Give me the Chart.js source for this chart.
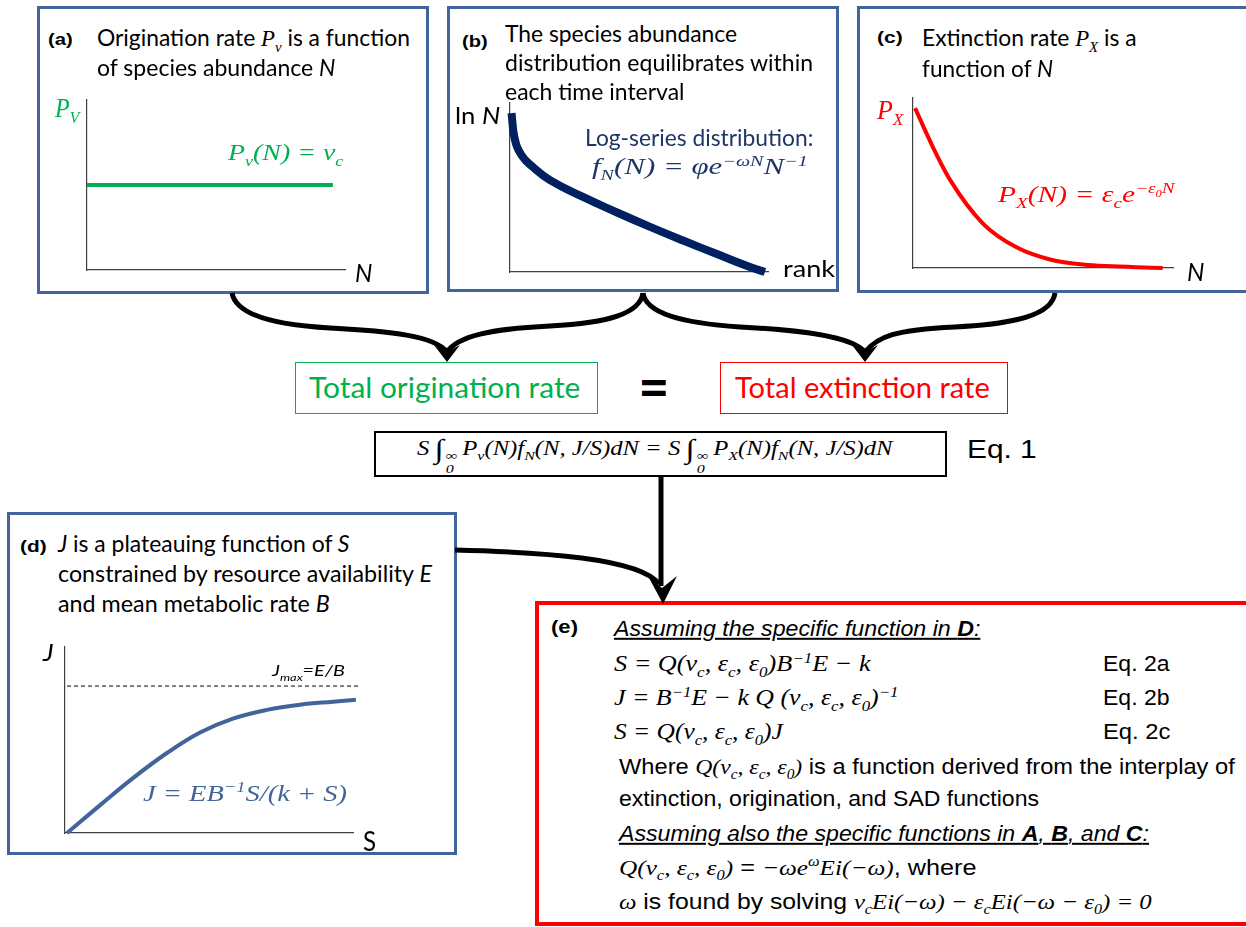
<!DOCTYPE html>
<html lang="en">
<head>
<meta charset="UTF-8">
<title>Species richness model</title>
<style>
    body { margin: 0; background: #fff; width: 1246px; height: 927px; overflow: hidden; position: relative; }
    .box { position: absolute; box-sizing: border-box; }
    .panel { border: 3px solid #41649a; }
    .t { position: absolute; white-space: nowrap; line-height: 1.2; transform-origin: 0 50%; transform: translateY(-50%);
         font-family: Lato, "Open Sans", sans-serif; font-size: 24px; color: #000; }
    .lab { font-family: "Liberation Sans", Arial, sans-serif; font-weight: bold; font-size: 17px; }
    .ar { font-family: "Liberation Sans", Arial, sans-serif; font-size: 22px; }
    .m { font-family: "Liberation Serif", "DejaVu Serif", serif; font-style: italic; }
    sub, sup { font-size: 0.65em; line-height: 0; }
    .int { font-size: 1.35em; line-height: 0; vertical-align: -0.1em; margin: 0 2px 0 4px; }
    .lim { display: inline-flex; flex-direction: column; font-size: 0.65em; line-height: 1; vertical-align: -0.35em; margin-right: 4px; }
    canvas { position: absolute; }
    svg { position: absolute; left: 0; top: 0; }
</style>
</head>
<body>
    <!-- panel frames -->
    <div class="box panel" style="left:37px;top:6px;width:392px;height:288px"></div>
    <div class="box panel" style="left:447px;top:6px;width:392px;height:286px"></div>
    <div class="box panel" style="left:857px;top:6px;width:395px;height:287px"></div>
    <div class="box panel" style="left:7px;top:512px;width:450px;height:343px"></div>
    <div class="box" style="left:535px;top:601px;width:720px;height:325px;border:4px solid #ff0000"></div>
    <div class="box" style="left:295px;top:362px;width:303px;height:52px;border:1px solid #00b050"></div>
    <div class="box" style="left:720px;top:362px;width:288px;height:52px;border:1px solid #ff0000"></div>
    <div class="box" style="left:374px;top:431px;width:573px;height:46px;border:2px solid #000"></div>

    <canvas id="chartA" width="298" height="210" style="left:67px;top:80px"></canvas>
    <canvas id="chartB" width="298" height="209" style="left:490px;top:83px"></canvas>
    <canvas id="chartC" width="300" height="210" style="left:893px;top:78px"></canvas>
    <canvas id="chartD" width="328" height="226" style="left:45px;top:627px"></canvas>

    <!-- panel (a) -->
    <div class="t lab" style="left:48px;top:40px" data-w="25">(a)</div>
    <div class="t" style="left:97px;top:38px" data-w="313">Origination rate <span class="m">P<sub>v</sub></span> is a function</div>
    <div class="t" style="left:97px;top:67px" data-w="238">of species abundance <i>N</i></div>
    <div class="t m" style="left:55px;top:108px;font-size:27px;color:#00b050" data-w="24">P<sub>V</sub></div>
    <div class="t m" style="left:228px;top:153px;font-size:23px;color:#00b050" data-w="115">P<sub>v</sub>(N) = v<sub>c</sub></div>
    <div class="t" style="left:355px;top:273px;font-size:26px;font-style:italic" data-w="17">N</div>

    <!-- panel (b) -->
    <div class="t lab" style="left:462px;top:42px" data-w="26">(b)</div>
    <div class="t" style="left:505px;top:33px" data-w="232">The species abundance</div>
    <div class="t" style="left:505px;top:62px" data-w="308">distribution equilibrates within</div>
    <div class="t" style="left:505px;top:91px" data-w="180">each time interval</div>
    <div class="t" style="left:455px;top:115px" data-w="45">ln <i>N</i></div>
    <div class="t" style="left:585px;top:137px;color:#1f3668" data-w="228">Log-series distribution:</div>
    <div class="t m" style="left:592px;top:167px;font-size:23px;color:#1f3668" data-w="215">f<sub>N</sub>(N) = φe<sup>−ωN</sup>N<sup>−1</sup></div>
    <div class="t" style="left:783px;top:268px" data-w="52">rank</div>

    <!-- panel (c) -->
    <div class="t lab" style="left:877px;top:38px" data-w="26">(c)</div>
    <div class="t" style="left:922px;top:38px" data-w="215">Extinction rate <span class="m">P<sub>X</sub></span> is a</div>
    <div class="t" style="left:922px;top:68px" data-w="131">function of <i>N</i></div>
    <div class="t m" style="left:877px;top:110px;font-size:27px;color:#ff0000" data-w="26">P<sub>X</sub></div>
    <div class="t m" style="left:998px;top:195px;font-size:23px;color:#ff0000" data-w="177">P<sub>X</sub>(N) = ε<sub>c</sub>e<sup>−ε<sub>0</sub>N</sup></div>
    <div class="t" style="left:1187px;top:272px;font-size:26px;font-style:italic" data-w="17">N</div>

    <!-- totals -->
    <div class="t" style="left:309px;top:388px;font-size:28px;color:#00b050" data-w="271">Total origination rate</div>
    <div class="t" style="left:735px;top:388px;font-size:28px;color:#ff0000" data-w="255">Total extinction rate</div>
    <div class="t" style="left:638px;top:388px;font-family:'DejaVu Sans';font-weight:bold;font-size:46px" data-w="32">=</div>
    <div class="t m" style="left:417px;top:455px;font-size:20px" data-w="476">S<span class="int">∫</span><span class="lim"><span>∞</span><span>0</span></span>P<sub>v</sub>(N)f<sub>N</sub>(N, J/S)dN = S<span class="int">∫</span><span class="lim"><span>∞</span><span>0</span></span>P<sub>X</sub>(N)f<sub>N</sub>(N, J/S)dN</div>
    <div class="t ar" style="left:967px;top:450px;font-size:26px" data-w="70">Eq. 1</div>

    <!-- panel (d) -->
    <div class="t lab" style="left:20px;top:547px" data-w="27">(d)</div>
    <div class="t" style="left:58px;top:543px" data-w="292"><i>J</i> is a plateauing function of <i>S</i></div>
    <div class="t" style="left:58px;top:573px" data-w="374">constrained by resource availability <i>E</i></div>
    <div class="t" style="left:58px;top:603px" data-w="272">and mean metabolic rate <i>B</i></div>
    <div class="t" style="left:43px;top:652px;font-style:italic" data-w="11">J</div>
    <div class="t" style="left:272px;top:670px;font-size:16px;font-style:italic" data-w="73">J<sub>max</sub>=E/B</div>
    <div class="t m" style="left:143px;top:793px;font-size:24px;color:#41649a" data-w="204">J = EB<sup>−1</sup>S/(k + S)</div>
    <div class="t" style="left:363px;top:842px;font-size:26px" data-w="13">S</div>

    <!-- panel (e) -->
    <div class="t lab" style="left:551px;top:628px;font-size:18px" data-w="27">(e)</div>
    <div class="t ar" style="left:614px;top:629px;font-style:italic;text-decoration:underline" data-w="366">Assuming the specific function in <b>D</b>:</div>
    <div class="t m" style="left:614px;top:664px;font-size:23px" data-w="256">S = Q(v<sub>c</sub>, ε<sub>c</sub>, ε<sub>0</sub>)B<sup>−1</sup>E − k</div>
    <div class="t ar" style="left:1103px;top:664px" data-w="67">Eq. 2a</div>
    <div class="t m" style="left:614px;top:698px;font-size:23px" data-w="284">J = B<sup>−1</sup>E − k Q (v<sub>c</sub>, ε<sub>c</sub>, ε<sub>0</sub>)<sup>−1</sup></div>
    <div class="t ar" style="left:1103px;top:698px" data-w="67">Eq. 2b</div>
    <div class="t m" style="left:614px;top:732px;font-size:23px" data-w="169">S = Q(v<sub>c</sub>, ε<sub>c</sub>, ε<sub>0</sub>)J</div>
    <div class="t ar" style="left:1103px;top:732px" data-w="67">Eq. 2c</div>
    <div class="t ar" style="left:619px;top:767px" data-w="616">Where <span class="m">Q(v<sub>c</sub>, ε<sub>c</sub>, ε<sub>0</sub>)</span> is a function derived from the interplay of</div>
    <div class="t ar" style="left:619px;top:799px" data-w="420">extinction, origination, and SAD functions</div>
    <div class="t ar" style="left:619px;top:834px;font-style:italic;text-decoration:underline" data-w="530">Assuming also the specific functions in <b>A</b>, <b>B</b>, and <b>C</b>:</div>
    <div class="t ar" style="left:619px;top:868px" data-w="358"><span class="m">Q(v<sub>c</sub>, ε<sub>c</sub>, ε<sub>0</sub>)</span> = <span class="m">−ωe<sup>ω</sup>Ei(−ω)</span>, where</div>
    <div class="t ar" style="left:619px;top:902px" data-w="532"><span class="m">ω</span> is found by solving <span class="m">v<sub>c</sub>Ei(−ω) − ε<sub>c</sub>Ei(−ω − ε<sub>0</sub>) = 0</span></div>

    <!-- connectors -->
    <svg width="1246" height="927">
        <g fill="none" stroke="#000" stroke-width="5">
            <path d="M232,293 C236,315 275,325 330,328 C390,331 435,336 447,352"/>
            <path d="M643,293 C640,313 610,323 550,326 C490,329 458,336 447,352"/>
            <path d="M643,293 C646,313 680,323 740,327 C800,330 852,336 865,352"/>
            <path d="M1055,293 C1052,315 1015,324 955,327 C895,330 878,336 865,352"/>
            <path d="M661,477 L661,586"/>
            <path d="M455,550 C540,552 640,558 659,584"/>
        </g>
        <g fill="#000">
            <polygon points="434,345 447,362 460,345 447,352"/>
            <polygon points="852,345 865,362 878,345 865,352"/>
            <polygon points="648,576 663,604 677,576 662,588"/>
        </g>
    </svg>

    <script src="https://cdn.jsdelivr.net/npm/chart.js"></script>
    <script>
        // (a) origination rate is flat in N
        const aN = [0, 0.953];
        const aPv = [0.5, 0.5];

        // (b) log-series rank abundance (ln N vs rank)
        const bRank = [0.006, 0.018, 0.045, 0.089, 0.155, 0.283, 0.415, 0.543, 0.671, 0.802, 0.93, 0.988];
        const bLnN = [0.94, 0.79, 0.69, 0.621, 0.544, 0.444, 0.352, 0.267, 0.186, 0.106, 0.029, 0.0];

        // (c) extinction rate decays with N
        const cN = [0.008, 0.077, 0.142, 0.27, 0.40, 0.527, 0.654, 0.96];
        const cPx = [0.94, 0.71, 0.52, 0.26, 0.12, 0.05, 0.02, 0.0];

        // (d) J saturates with S
        const dS = [0.007, 0.122, 0.236, 0.354, 0.469, 0.583, 0.701, 0.816, 0.931, 1.01];
        const dJ = [0, 0.15, 0.295, 0.43, 0.54, 0.615, 0.662, 0.69, 0.706, 0.716];
        const dJmaxS = [0.007, 1.024];
        const dJmax = [0.79, 0.79];

        const toPts = (xs, ys) => xs.map((x, i) => ({ x: x, y: ys[i] }));

        // axes drawn as plain L-shaped borders, no ticks or grid
        function axis(pos) {
            return {
                type: 'linear', position: pos, min: 0, max: 1,
                grid: { display: false, drawTicks: false },
                ticks: { display: false },
                border: { display: true, color: '#404040', width: 1.2 }
            };
        }

        function makePlot(id, datasets) {
            return new Chart(document.getElementById(id), {
                type: 'line',
                data: { datasets: datasets },
                options: {
                    responsive: false,
                    animation: false,
                    events: [],
                    layout: { padding: 20 },
                    plugins: { legend: { display: false }, tooltip: { enabled: false } },
                    scales: { x: axis('bottom'), y: axis('left') },
                    elements: { point: { radius: 0 } }
                }
            });
        }

        makePlot('chartA', [{
            data: toPts(aN, aPv), borderColor: '#00b050', borderWidth: 4, clip: false
        }]);
        makePlot('chartB', [{
            data: toPts(bRank, bLnN), borderColor: '#002060', borderWidth: 8,
            tension: 0.45, clip: false
        }]);
        makePlot('chartC', [{
            data: toPts(cN, cPx), borderColor: '#ff0000', borderWidth: 4,
            cubicInterpolationMode: 'monotone', clip: false
        }]);
        makePlot('chartD', [{
            data: toPts(dJmaxS, dJmax), borderColor: '#000', borderWidth: 1, borderDash: [4, 3], clip: false
        }, {
            data: toPts(dS, dJ), borderColor: '#41649a', borderWidth: 4,
            tension: 0.4, clip: false
        }]);

        // squeeze or stretch each text line to the width it has in the figure
        function fitText() {
            document.querySelectorAll('.t[data-w]').forEach(el => {
                const k = parseFloat(el.dataset.w) / el.offsetWidth;
                el.style.transform = 'translateY(-50%) scaleX(' + k.toFixed(3) + ')';
            });
        }
        document.fonts.ready.then(fitText);
    </script>
</body>
</html>
